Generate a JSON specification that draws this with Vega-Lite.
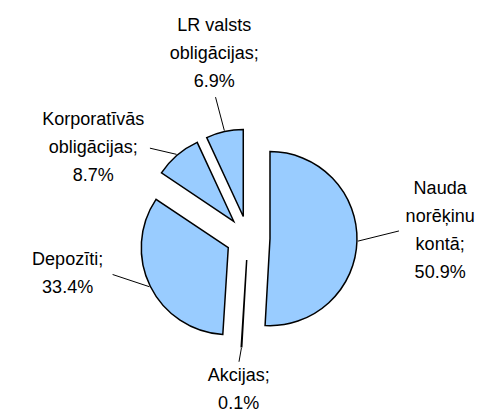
{
  "$schema": "https://vega.github.io/schema/vega-lite/v6.json",
  "width": 488,
  "height": 414,
  "padding": 0,
  "autosize": {"type": "none"},
  "background": "#ffffff",
  "config": {"view": {"stroke": null}},
  "data": {
    "values": [
      {"name": "Nauda\nnorēķinu\nkontā", "share": 50.9},
      {"name": "Akcijas", "share": 0.1},
      {"name": "Depozīti", "share": 33.4},
      {"name": "Korporatīvās\nobligācijas", "share": 8.7},
      {"name": "LR valsts\nobligācijas", "share": 6.9}
    ]
  },
  "transform": [
    {"window": [{"op": "sum", "field": "share", "as": "cum"}, {"op": "row_number", "as": "rn"}], "frame": [null, 0]},
    {"joinaggregate": [{"op": "sum", "field": "share", "as": "total"}]},
    {"calculate": "2*PI*(datum.cum - datum.share/2)/datum.total", "as": "mid"},
    {"calculate": "sin(datum.mid)", "as": "sx"},
    {"calculate": "cos(datum.mid)", "as": "cy"},
    {"calculate": "22*datum.sx", "as": "ex"},
    {"calculate": "22*datum.cy", "as": "ey"},
    {"calculate": "datum.name + ';\\n' + format(datum.share, '.1f') + '%'", "as": "label"},
    {"calculate": "split(datum.label, '\\n')", "as": "lines"},
    {"calculate": "length(datum.lines)", "as": "nl"},
    {"calculate": "max(length(datum.lines[0]), datum.nl > 1 ? length(datum.lines[1]) : 0, datum.nl > 2 ? length(datum.lines[2]) : 0, datum.nl > 3 ? length(datum.lines[3]) : 0)", "as": "nch"},
    {"calculate": "datum.sx < -0.3 ? -1 : (datum.sx > 0.3 ? 1 : 0)", "as": "hs"},
    {"calculate": "datum.cy > 0.8 ? 1 : (datum.cy < -0.8 ? -1 : 0)", "as": "vs"},
    {"calculate": "datum.vs == 0 ? 105*datum.cy + 10 : 140*datum.cy + 10", "as": "edgey"},
    {"calculate": "110*datum.sx", "as": "l1x"},
    {"calculate": "110*datum.cy", "as": "l1y"},
    {"calculate": "151*datum.sx", "as": "l2x"},
    {"calculate": "datum.vs == 0 ? datum.edgey : 134*datum.cy + 10", "as": "l2y"},
    {"calculate": "157*datum.sx + datum.hs*datum.nch*4.4", "as": "tx"},
    {"calculate": "datum.vs == 1 ? datum.edgey + (datum.nl - 1)*28 + 9.4 : (datum.vs == -1 ? datum.edgey - 8 : datum.edgey + (datum.nl - 1)*14)", "as": "ty"}
  ],
  "layer": [
    {
      "mark": {"type": "rule", "stroke": "#000000", "strokeWidth": 1},
      "encoding": {
        "x": {"field": "l1x", "type": "quantitative", "scale": {"domain": [-248, 240], "nice": false, "zero": false}, "axis": null},
        "y": {"field": "l1y", "type": "quantitative", "scale": {"domain": [-176, 238], "nice": false, "zero": false}, "axis": null},
        "x2": {"field": "l2x"},
        "y2": {"field": "l2y"}
      }
    },
    {
      "mark": {"type": "arc", "radius": 87, "fill": "#99CCFF", "stroke": "#000000", "strokeWidth": 1.5, "strokeJoin": "miter"},
      "encoding": {
        "theta": {"field": "share", "type": "quantitative", "stack": true},
        "order": {"field": "rn", "type": "quantitative"},
        "detail": {"field": "name", "type": "nominal"},
        "x": {"field": "ex", "type": "quantitative"},
        "y": {"field": "ey", "type": "quantitative"}
      }
    },
    {
      "mark": {
        "type": "text",
        "font": "Liberation Sans",
        "fontSize": 18,
        "lineHeight": 28,
        "lineBreak": "\n",
        "fill": "#000000",
        "align": "center",
        "baseline": "middle"
      },
      "encoding": {
        "x": {"field": "tx", "type": "quantitative"},
        "y": {"field": "ty", "type": "quantitative"},
        "text": {"field": "label", "type": "nominal"}
      }
    }
  ]
}
